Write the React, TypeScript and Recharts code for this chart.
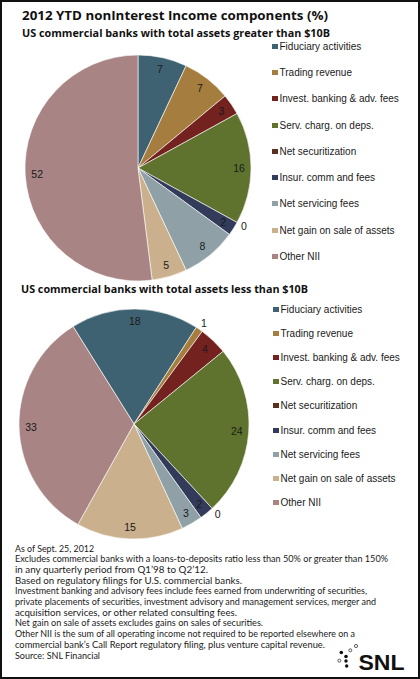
import { Cell, Legend, Pie, PieChart } from "recharts";

// income components, in legend order
const CATEGORIES = [
  "Fiduciary activities",
  "Trading revenue",
  "Invest. banking & adv. fees",
  "Serv. charg. on deps.",
  "Net securitization",
  "Insur. comm and fees",
  "Net servicing fees",
  "Net gain on sale of assets",
  "Other NII",
];

// share of noninterest income (%)
const LARGE_BANKS = [7, 7, 3, 16, 0, 2, 8, 5, 52];
const SMALL_BANKS = [18, 1, 4, 24, 0, 2, 3, 15, 33];

const COLORS = [
  "#3e6271",
  "#a57d3e",
  "#73221f",
  "#5f732f",
  "#5a2f1f",
  "#333b5b",
  "#8fa1a7",
  "#cab08c",
  "#a88584",
];

const NOTES = [
  "As of Sept. 25, 2012",
  "Excludes commercial banks with a loans-to-deposits ratio less than 50% or greater than 150%",
  "in any quarterly period from Q1\u201998 to Q2\u201912.",
  "Based on regulatory filings for U.S. commercial banks.",
  "Investment banking and advisory fees include fees earned from underwriting of securities,",
  "private placements of securities, investment advisory and management services, merger and",
  "acquisition services, or other related consulting fees.",
  "Net gain on sale of assets excludes gains on sales of securities.",
  "Other NII is the sum of all operating income not required to be reported elsewhere on a",
  "commercial bank\u2019s Call Report regulatory filing, plus venture capital revenue.",
  "Source: SNL Financial",
];
// rendered width of each note line
const NOTE_WIDTHS = [79, 373, 193, 227, 352, 361, 222, 248, 340, 310, 85];

const largeData = CATEGORIES.map((name, i) => ({ name, value: LARGE_BANKS[i] }));
const smallData = CATEGORIES.map((name, i) => ({ name, value: SMALL_BANKS[i] }));

const HEAD_FONT = "'Open Sans', 'Noto Sans', sans-serif";
const NOTE_FONT = "Lato, 'Open Sans', sans-serif";
const BODY_FONT = "'Liberation Sans', Arial, sans-serif";
const RAD = Math.PI / 180;

function SliceLabel(props: any) {
  const { cx, cy, midAngle, outerRadius, value } = props;
  // tiny slices get their number just outside the rim
  const r = value <= 1 ? outerRadius + 8 : outerRadius - 12;
  const x = cx + r * Math.cos(-midAngle * RAD);
  const y = cy + r * Math.sin(-midAngle * RAD);
  return (
    <text
      x={x}
      y={y}
      textAnchor="middle"
      dominantBaseline="central"
      fontSize={10.5}
      fontFamily={BODY_FONT}
      fill="#1a1a1a"
    >
      {value}
    </text>
  );
}

// legend rows keep the category order rather than the library's sorted payload
function makeLegend(rowHeight: number) {
  return function LegendList() {
    return (
      <div style={{ fontFamily: BODY_FONT, fontSize: 10, color: "#1a1a1a" }}>
        {CATEGORIES.map((name, i) => (
          <div
            key={name}
            style={{ display: "flex", alignItems: "center", height: rowHeight }}
          >
            <span
              style={{
                display: "inline-block",
                width: 6,
                height: 5,
                marginRight: 1.5,
                background: COLORS[i],
              }}
            />
            <span>{name}</span>
          </div>
        ))}
      </div>
    );
  };
}

function SnlLogo() {
  return (
    <g>
      <circle cx={341.3} cy={652.5} r={1.8} fill="#111" />
      <circle cx={346} cy={656.5} r={1.8} fill="#111" />
      <circle cx={346} cy={661} r={1.7} fill="#111" />
      <circle cx={346.7} cy={666} r={1.7} fill="#111" />
      <circle cx={350.3} cy={650.3} r={1.5} fill="none" stroke="#333" strokeWidth={0.8} />
      <circle cx={356} cy={646} r={1.6} fill="none" stroke="#333" strokeWidth={0.8} />
      <circle cx={339.3} cy={660.7} r={1.5} fill="none" stroke="#333" strokeWidth={0.8} />
      <text
        x={358.5}
        y={669.5}
        fontSize={22}
        fontWeight="bold"
        fontFamily={BODY_FONT}
        fill="#111"
        textLength={46}
        lengthAdjust="spacingAndGlyphs"
      >
        SNL
      </text>
    </g>
  );
}

export default function App() {
  return (
    <div
      style={{
        position: "absolute",
        left: 0,
        top: 0,
        width: 420,
        height: 679,
        background: "#fff",
        overflow: "hidden",
      }}
    >
      <div style={{ position: "absolute", left: 0, top: 0 }}>
        <PieChart width={420} height={283}>
          <Pie
            data={largeData}
            dataKey="value"
            nameKey="name"
            cx={133}
            cy={163}
            outerRadius={113}
            startAngle={90}
            endAngle={-270}
            stroke="#ffffff"
            strokeWidth={0.6}
            label={SliceLabel}
            labelLine={false}
            isAnimationActive={false}
          >
            {largeData.map((d, i) => (
              <Cell key={d.name} fill={COLORS[i]} />
            ))}
          </Pie>
          <Legend
            layout="vertical"
            verticalAlign="top"
            align="right"
            wrapperStyle={{ left: 272, top: 33, width: 148 }}
            content={makeLegend(26.3)}
          />
        </PieChart>
      </div>

      <div style={{ position: "absolute", left: 0, top: 283 }}>
        <PieChart width={420} height={257}>
          <Pie
            data={smallData}
            dataKey="value"
            nameKey="name"
            cx={129}
            cy={136}
            outerRadius={115}
            startAngle={122}
            endAngle={-238}
            stroke="#ffffff"
            strokeWidth={0.6}
            label={SliceLabel}
            labelLine={false}
            isAnimationActive={false}
          >
            {smallData.map((d, i) => (
              <Cell key={d.name} fill={COLORS[i]} />
            ))}
          </Pie>
          <Legend
            layout="vertical"
            verticalAlign="top"
            align="right"
            wrapperStyle={{ left: 273, top: 14, width: 147 }}
            content={makeLegend(24.2)}
          />
        </PieChart>
      </div>

      <svg
        width={420}
        height={679}
        style={{ position: "absolute", left: 0, top: 0, pointerEvents: "none" }}
      >
        <text
          x={22}
          y={20}
          fontSize={13}
          fontWeight="bold"
          fontFamily={HEAD_FONT}
          fill="#111"
          textLength={306}
          lengthAdjust="spacingAndGlyphs"
        >
          2012 YTD nonInterest Income components (%)
        </text>
        <text
          x={22}
          y={36.5}
          fontSize={10.5}
          fontWeight="bold"
          fontFamily={HEAD_FONT}
          fill="#111"
          textLength={308}
          lengthAdjust="spacingAndGlyphs"
        >
          US commercial banks with total assets greater than $10B
        </text>
        <text
          x={21}
          y={293.3}
          fontSize={10.5}
          fontWeight="bold"
          fontFamily={HEAD_FONT}
          fill="#111"
          textLength={287}
          lengthAdjust="spacingAndGlyphs"
        >
          US commercial banks with total assets less than $10B
        </text>
        {NOTES.map((line, i) => (
          <text
            key={i}
            x={15}
            y={551.5 + i * 10.7}
            fontSize={8.8}
            fontFamily={NOTE_FONT}
            fill="#1a1a1a"
            textLength={NOTE_WIDTHS[i]}
            lengthAdjust="spacingAndGlyphs"
          >
            {line}
          </text>
        ))}
        <SnlLogo />
      </svg>

      <div
        style={{
          position: "absolute",
          inset: 0,
          border: "2px solid #111",
          pointerEvents: "none",
        }}
      />
    </div>
  );
}
